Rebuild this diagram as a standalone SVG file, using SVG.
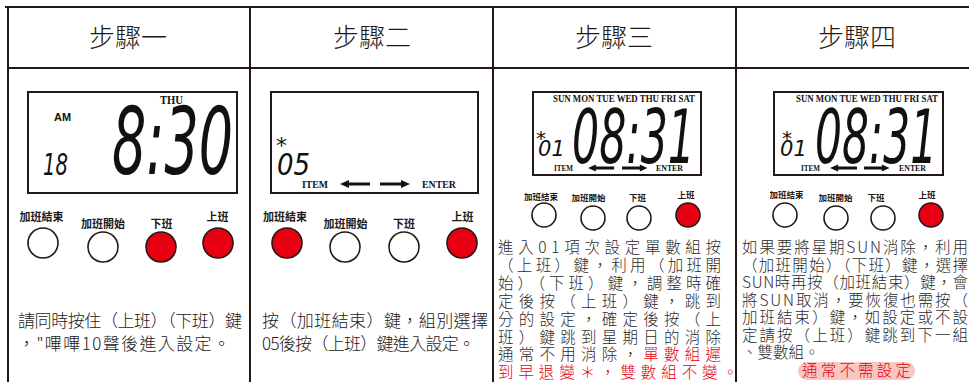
<svg xmlns="http://www.w3.org/2000/svg" xmlns:xlink="http://www.w3.org/1999/xlink" width="969" height="382" viewBox="0 0 969 382">
<style>
.grid{stroke:#231815;stroke-width:2;fill:none}
.lcd{fill:#fff;stroke:#231815;stroke-width:2}
.hd{font-family:"Noto Sans CJK TC","Noto Sans CJK SC",sans-serif;font-weight:300;font-size:26px;fill:#231815;text-anchor:middle}
.seg{font-family:"DejaVu Sans","Liberation Sans",sans-serif;font-style:oblique;fill:#111}
.ser{font-family:"Liberation Serif",serif;font-weight:bold;fill:#111}
.am{font-family:"Liberation Sans",sans-serif;font-weight:bold;font-size:10px;fill:#111}
.ast{font-family:"DejaVu Sans",sans-serif;fill:#111}
.lb{font-family:"Noto Sans CJK TC","Noto Sans CJK SC",sans-serif;font-weight:bold;fill:#231815;text-anchor:middle}
.b1{font-size:11px}
.b2{font-size:8.5px}
.bw{fill:#fff;stroke:#231815;stroke-width:1.6}
.br{fill:#e60012;stroke:#231815;stroke-width:1.6}
.tx{font-family:"Noto Sans CJK TC","Noto Sans CJK SC",sans-serif;font-weight:300;font-size:17px;fill:#231815}
.ts{font-family:"Noto Sans CJK TC","Noto Sans CJK SC",sans-serif;font-weight:300;font-size:15.5px;fill:#2b2b2b}
.red{fill:#e60012}
.arr{fill:#111}
</style>
<defs>
<path id="arrL" d="M0,0 L9,-4 L9,-1.6 L30,-1.6 L30,1.6 L9,1.6 L9,4 Z"/>
<path id="arrR" d="M30,0 L21,-4 L21,-1.6 L0,-1.6 L0,1.6 L21,1.6 L21,4 Z"/>
</defs>

<g id="table">
<line class="grid" x1="5" y1="7" x2="969" y2="7"/>
<line class="grid" x1="8" y1="68" x2="969" y2="68"/>
<line class="grid" x1="8" y1="7" x2="8" y2="382"/>
<line class="grid" x1="250" y1="7" x2="250" y2="382"/>
<line class="grid" x1="493" y1="7" x2="493" y2="382"/>
<line class="grid" x1="736" y1="7" x2="736" y2="382"/>
</g>

<g id="step1">
<text class="hd" x="128" y="47">步驟一</text>
<rect class="lcd" x="28" y="92" width="209" height="101"/>
<text class="ser" x="160" y="104" font-size="12" textLength="23" lengthAdjust="spacingAndGlyphs">THU</text>
<text class="am" x="54" y="121" textLength="17" lengthAdjust="spacingAndGlyphs">AM</text>
<text class="seg" font-size="31" transform="translate(43,175) scale(0.634,1)">18</text>
<text class="seg" font-size="92" transform="translate(112,174) scale(0.586,1)">8:30</text>
<text class="lb b1" x="41.5" y="221">加班結束</text>
<text class="lb b1" x="103" y="228">加班開始</text>
<text class="lb b1" x="161.5" y="228">下班</text>
<text class="lb b1" x="217.5" y="221">上班</text>
<circle class="bw" cx="43" cy="243" r="15"/>
<circle class="bw" cx="103" cy="247" r="15"/>
<circle class="br" cx="161" cy="247" r="15"/>
<circle class="br" cx="218" cy="243" r="15"/>
<text class="tx"><tspan x="18" y="327" textLength="224">請同時按住（上班）（下班）鍵</tspan><tspan x="18" y="350" textLength="212">，"嗶嗶10聲後進入設定。</tspan></text>
</g>

<g id="step2">
<text class="hd" x="372" y="47">步驟二</text>
<rect class="lcd" x="271" y="92" width="207" height="101"/>
<text class="ast" x="276" y="153" font-size="22">*</text>
<text class="seg" font-size="31" transform="translate(277,175) scale(0.84,1)">05</text>
<text class="ser" x="302" y="188" font-size="10.5" textLength="26" lengthAdjust="spacingAndGlyphs">ITEM</text>
<use xlink:href="#arrL" class="arr" transform="translate(340,184)"/>
<use xlink:href="#arrR" class="arr" transform="translate(380,184)"/>
<text class="ser" x="422" y="188" font-size="10.5" textLength="34" lengthAdjust="spacingAndGlyphs">ENTER</text>
<text class="lb b1" x="285" y="221">加班結束</text>
<text class="lb b1" x="345.5" y="228">加班開始</text>
<text class="lb b1" x="404" y="228">下班</text>
<text class="lb b1" x="462.5" y="221">上班</text>
<circle class="br" cx="287" cy="243" r="15"/>
<circle class="bw" cx="345" cy="247" r="15"/>
<circle class="bw" cx="404" cy="247" r="15"/>
<circle class="br" cx="462" cy="243" r="15"/>
<text class="tx"><tspan x="262" y="327" textLength="226">按（加班結束）鍵，組別選擇</tspan><tspan x="262" y="350" textLength="213">05後按（上班）鍵進入設定。</tspan></text>
</g>

<g id="step3">
<text class="hd" x="614" y="47">步驟三</text>
<rect class="lcd" x="533" y="92" width="168" height="83"/>
<text class="ser" x="553" y="102" font-size="9.5" textLength="142" lengthAdjust="spacingAndGlyphs">SUN MON TUE WED THU FRI SAT</text>
<text class="ast" x="536" y="145" font-size="20">*</text>
<text class="seg" font-size="22" transform="translate(538,156) scale(0.96,1)">01</text>
<text class="seg" font-size="75" transform="translate(572,163) scale(0.569,1)">08:31</text>
<text class="ser" x="554" y="171" font-size="8.5" textLength="19" lengthAdjust="spacingAndGlyphs">ITEM</text>
<use xlink:href="#arrL" class="arr" transform="translate(588,168) scale(0.87,0.9)"/>
<use xlink:href="#arrR" class="arr" transform="translate(622,168) scale(0.85,0.9)"/>
<text class="ser" x="656" y="171" font-size="8.5" textLength="27" lengthAdjust="spacingAndGlyphs">ENTER</text>
<text class="lb b2" x="541" y="200">加班結束</text>
<text class="lb b2" x="588.5" y="201">加班開始</text>
<text class="lb b2" x="637.5" y="201">下班</text>
<text class="lb b2" x="686" y="198">上班</text>
<circle class="bw" cx="544" cy="215" r="12"/>
<circle class="bw" cx="593" cy="218" r="12"/>
<circle class="bw" cx="639" cy="218" r="12"/>
<circle class="br" cx="688" cy="215" r="12"/>
<text class="ts"><tspan x="498" y="253" textLength="223">進入01項次設定單數組按</tspan><tspan x="498" y="270.9" textLength="223">（上班）鍵，利用（加班開</tspan><tspan x="498" y="288.8" textLength="223">始）（下班）鍵，調整時確</tspan><tspan x="498" y="306.7" textLength="223">定後按（上班）鍵，跳到</tspan><tspan x="498" y="324.6" textLength="223">分的設定，確定後按（上</tspan><tspan x="498" y="342.5" textLength="223">班）鍵跳到星期日的消除</tspan><tspan x="498" y="360.4" textLength="223">通常不用消除，<tspan class="red">單數組遲</tspan></tspan><tspan class="red" x="498" y="378.3" textLength="240">到早退變＊，雙數組不變。</tspan></text>
</g>

<g id="step4">
<text class="hd" x="857" y="47">步驟四</text>
<rect class="lcd" x="774" y="92" width="169" height="83"/>
<text class="ser" x="796" y="102" font-size="9.5" textLength="142" lengthAdjust="spacingAndGlyphs">SUN MON TUE WED THU FRI SAT</text>
<text class="ast" x="782" y="145" font-size="20">*</text>
<text class="seg" font-size="22" transform="translate(780,156) scale(0.96,1)">01</text>
<text class="seg" font-size="75" transform="translate(815,163) scale(0.565,1)">08:31</text>
<text class="ser" x="801" y="171" font-size="8.5" textLength="19" lengthAdjust="spacingAndGlyphs">ITEM</text>
<use xlink:href="#arrL" class="arr" transform="translate(830,168) scale(0.9,0.9)"/>
<use xlink:href="#arrR" class="arr" transform="translate(864,168) scale(0.85,0.9)"/>
<text class="ser" x="899" y="171" font-size="8.5" textLength="27" lengthAdjust="spacingAndGlyphs">ENTER</text>
<text class="lb b2" x="786.5" y="198">加班結束</text>
<text class="lb b2" x="835.5" y="201">加班開始</text>
<text class="lb b2" x="876" y="201">下班</text>
<text class="lb b2" x="927" y="198">上班</text>
<circle class="bw" cx="785" cy="215" r="12"/>
<circle class="bw" cx="836" cy="218" r="12"/>
<circle class="bw" cx="883" cy="218" r="12"/>
<circle class="br" cx="931" cy="215" r="12"/>
<text class="ts"><tspan x="742" y="253" textLength="226">如果要將星期SUN消除，利用</tspan><tspan x="742" y="270.5" textLength="226">（加班開始）（下班）鍵，選擇</tspan><tspan x="742" y="288" textLength="226">SUN時再按（加班結束）鍵，會</tspan><tspan x="742" y="305.5" textLength="226">將SUN取消，要恢復也需按（</tspan><tspan x="742" y="323" textLength="226">加班結束）鍵，如設定或不設</tspan><tspan x="742" y="340.5" textLength="226">定請按（上班）鍵跳到下一組</tspan><tspan x="742" y="358">、雙數組。</tspan></text>
<rect x="798" y="362" width="117" height="18" rx="9" fill="#f9c6c2"/>
<text class="ts red" x="802" y="376" font-size="15" textLength="109">通常不需設定</text>
</g>
</svg>
